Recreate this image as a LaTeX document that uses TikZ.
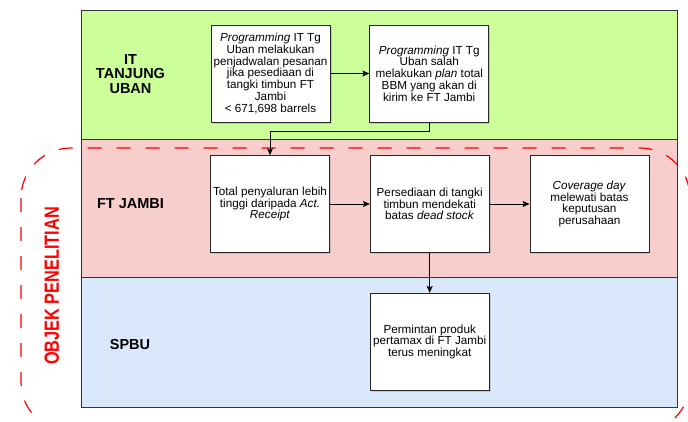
\documentclass[tikz,border=0pt]{standalone}
\usepackage{fontspec}
\usepackage{graphicx}
\setmainfont{Liberation Sans}
\definecolor{lanegreen}{HTML}{CCFF99}
\definecolor{lanepink}{HTML}{F8CECC}
\definecolor{laneblue}{HTML}{DAE8FC}
\definecolor{objekred}{HTML}{FF0000}
\usetikzlibrary{arrows.meta,positioning,shadows}
\tikzset{
	lane/.style={
		rectangle,
		draw=black!80,
		line width=0.8pt
	},
	lanelabel/.style={
		align=center,
		font=\fontsize{14.5}{14.2}\selectfont\bfseries
	},
	process/.style={
		rectangle,
		draw=black!85,
		line width=0.7pt,
		fill=white,
		minimum width=119pt,
		minimum height=97pt,
		inner sep=1pt,
		align=center,
		font=\fontsize{11.7}{11.7}\selectfont,
		drop shadow={opacity=0.3,shadow xshift=1.5pt,shadow yshift=-1.5pt}
	},
	arrow/.style={
		draw=black,
		line width=0.8pt,
		-{Stealth[length=7pt,width=6pt,inset=1.5pt]}
	},
	objek/.style={
		draw=objekred,
		line width=1.2pt,
		dash pattern=on 14pt off 15pt,
		rounded corners=50pt
	},
}

\begin{document}
\begin{tikzpicture}[x=1pt,y=-1pt,node distance=40pt]
	\useasboundingbox (0,0) rectangle (688,421);
	\clip (0,0) rectangle (688,421);
	% lanes
	\path[lane,fill=lanegreen] (81,10) rectangle (677,139);
	\path[lane,fill=lanepink] (81,139) rectangle (677,277);
	\path[lane,fill=laneblue] (81,277) rectangle (677,407);
	\node[lanelabel] (it) at (130.5,74) {IT\\TANJUNG\\UBAN};
	\node[lanelabel] (ft) at (130.5,204) {FT JAMBI};
	\node[lanelabel] (spbu) at (130,345) {SPBU};
	% objek penelitian
	\draw[objek] (21,148) rectangle (690,432);
	\node[rotate=90,text=objekred,font=\fontsize{16.3}{17}\selectfont\bfseries] (objek) at (51.7,286) {\scalebox{1}[1.26]{OBJEK PENELITIAN}};
	% boxes
	\node[process] (b1) at (270.5,73.5) {\textit{Programming} IT Tg\\Uban melakukan\\penjadwalan pesanan\\jika pesediaan di\\tangki timbun FT\\Jambi\\< 671,698 barrels};
	\node[process] (b2) [right=39pt of b1] {\textit{Programming} IT Tg\\Uban salah\\melakukan \textit{plan} total\\BBM yang akan di\\kirim ke FT Jambi};
	\node[process] (b3) at (270,204) {Total penyaluran lebih\\tinggi daripada \textit{Act.}\\\textit{Receipt}};
	\node[process] (b4) [right=of b3] {Persediaan di tangki\\timbun mendekati\\batas \textit{dead stock}};
	\node[process] (b5) [right=of b4] {\textit{Coverage day}\\melewati batas\\keputusan\\perusahaan};
	\node[process] (b6) [below=of b4] {Permintan produk\\pertamax di FT Jambi\\terus meningkat};
	% arrows
	\draw[arrow] (b1) -- (b2);
	\draw[arrow] (b2.south) -- ++(0,9) -| (b3.north);
	\draw[arrow] (b3) -- (b4);
	\draw[arrow] (b4) -- (b5);
	\draw[arrow] (b4) -- (b6);
\end{tikzpicture}
\end{document}
